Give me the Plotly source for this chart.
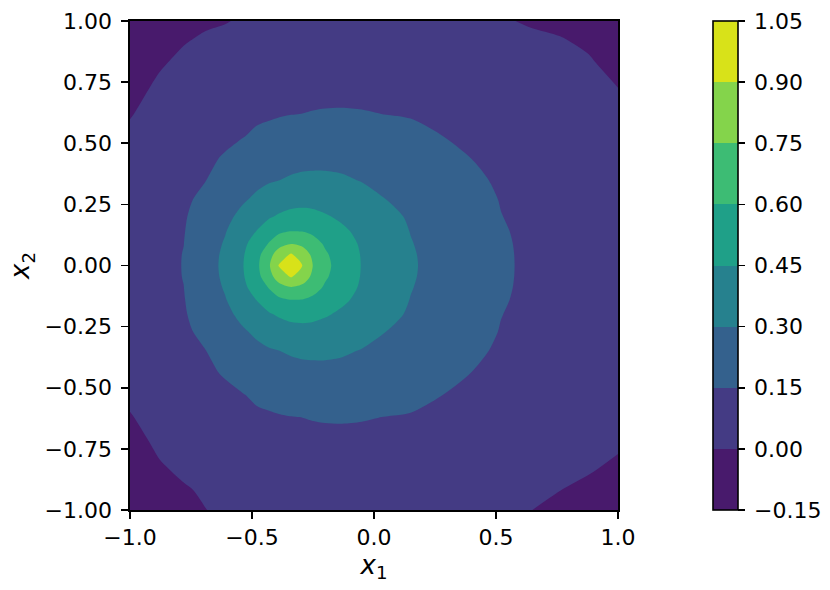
import plotly.graph_objects as go

# grid coordinates (non-uniform, finer near the peak)
x1_vals = [-1.0, -0.88, -0.78, -0.69, -0.61, -0.54, -0.48, -0.43, -0.39, -0.34, -0.29, -0.25,
           -0.2, -0.13, -0.05, 0.05, 0.15, 0.27, 0.4, 0.52, 0.64, 0.76, 0.88, 1.0]
x2_vals = [-1.0, -0.92, -0.83, -0.72, -0.62, -0.53, -0.44, -0.35, -0.27, -0.2, -0.14, -0.09, -0.045,
           0.0, 0.045, 0.09, 0.14, 0.2, 0.27, 0.35, 0.44, 0.53, 0.62, 0.72, 0.83, 0.92, 1.0]

# field values, one row per x2 value (bottom to top)
row_m100 = [-0.055, -0.04, -0.018, -0.001, 0.012, 0.02, 0.026, 0.03, 0.033, 0.036, 0.038, 0.04, 0.042, 0.044, 0.045, 0.045, 0.043, 0.038, 0.029, 0.018, 0.001, -0.012, -0.0186, -0.025]
row_m092 = [-0.048, -0.0247, -0.007, 0.0085, 0.0316, 0.0424, 0.0485, 0.0528, 0.0562, 0.0596, 0.0618, 0.0637, 0.0656, 0.0673, 0.0678, 0.0668, 0.0641, 0.0573, 0.0459, 0.0326, 0.0148, 0.0005, -0.0083, -0.016]
row_m083 = [-0.04, -0.0075, 0.0126, 0.030, 0.0535, 0.0675, 0.0738, 0.0785, 0.0822, 0.086, 0.0885, 0.0903, 0.0922, 0.0935, 0.0934, 0.0914, 0.0879, 0.079, 0.065, 0.049, 0.0304, 0.0147, 0.0034, -0.007]
row_m072 = [-0.025, 0.0136, 0.0366, 0.0569, 0.0805, 0.0983, 0.1047, 0.1098, 0.114, 0.1185, 0.1212, 0.1228, 0.1246, 0.1255, 0.1247, 0.1214, 0.117, 0.1056, 0.0882, 0.069, 0.049, 0.032, 0.0176, 0.006]
row_m062 = [-0.005, 0.0328, 0.0584, 0.081, 0.105, 0.1262, 0.1328, 0.1383, 0.143, 0.148, 0.151, 0.155, 0.158, 0.159, 0.156, 0.1486, 0.1434, 0.1297, 0.1094, 0.0875, 0.0665, 0.048, 0.0304, 0.016]
row_m053 = [0.016, 0.05, 0.078, 0.103, 0.127, 0.145, 0.167, 0.179, 0.191, 0.201, 0.206, 0.209, 0.211, 0.209, 0.205, 0.192, 0.177, 0.152, 0.128, 0.104, 0.082, 0.062, 0.042, 0.025]
row_m044 = [0.035, 0.072, 0.103, 0.131, 0.159, 0.19, 0.217, 0.232, 0.2425, 0.255, 0.26, 0.263, 0.263, 0.261, 0.252, 0.234, 0.212, 0.182, 0.149, 0.126, 0.102, 0.079, 0.055, 0.033]
row_m035 = [0.048, 0.087, 0.119, 0.148, 0.20, 0.240, 0.268, 0.288, 0.298, 0.314, 0.325, 0.327, 0.326, 0.315, 0.294, 0.27, 0.242, 0.211, 0.168, 0.137, 0.113, 0.088, 0.064, 0.04]
row_m027 = [0.057, 0.098, 0.131, 0.176, 0.237, 0.283, 0.325, 0.360, 0.382, 0.399, 0.406, 0.405, 0.398, 0.378, 0.347, 0.30, 0.271, 0.233, 0.186, 0.146, 0.121, 0.096, 0.071, 0.046]
row_m020 = [0.063, 0.105, 0.14, 0.20, 0.266, 0.333, 0.395, 0.436, 0.465, 0.491, 0.496, 0.486, 0.462, 0.428, 0.389, 0.335, 0.285, 0.242, 0.195, 0.152, 0.126, 0.101, 0.075, 0.05]
row_m014 = [0.066, 0.109, 0.145, 0.220, 0.293, 0.378, 0.454, 0.529, 0.573, 0.601, 0.595, 0.573, 0.535, 0.472, 0.417, 0.355, 0.297, 0.252, 0.204, 0.159, 0.129, 0.104, 0.078, 0.052]
row_m009 = [0.068, 0.112, 0.149, 0.233, 0.312, 0.413, 0.514, 0.608, 0.694, 0.741, 0.716, 0.653, 0.582, 0.507, 0.433, 0.369, 0.305, 0.257, 0.208, 0.163, 0.131, 0.106, 0.080, 0.054]
row_m005 = [0.07, 0.114, 0.153, 0.239, 0.326, 0.432, 0.554, 0.696, 0.823, 0.914, 0.818, 0.720, 0.618, 0.529, 0.442, 0.377, 0.311, 0.260, 0.211, 0.165, 0.132, 0.107, 0.081, 0.055]
row_p000 = [0.07, 0.114, 0.154, 0.242, 0.331, 0.439, 0.569, 0.735, 0.908, 1.03, 0.889, 0.746, 0.635, 0.536, 0.445, 0.379, 0.313, 0.262, 0.212, 0.165, 0.133, 0.107, 0.081, 0.055]
row_p005 = [0.07, 0.114, 0.153, 0.239, 0.326, 0.432, 0.554, 0.696, 0.823, 0.914, 0.818, 0.720, 0.618, 0.529, 0.442, 0.377, 0.311, 0.260, 0.211, 0.165, 0.132, 0.107, 0.081, 0.055]
row_p009 = [0.068, 0.112, 0.149, 0.233, 0.312, 0.413, 0.514, 0.608, 0.694, 0.741, 0.716, 0.653, 0.582, 0.507, 0.433, 0.369, 0.305, 0.257, 0.208, 0.163, 0.131, 0.106, 0.080, 0.054]
row_p014 = [0.066, 0.109, 0.145, 0.220, 0.293, 0.378, 0.454, 0.529, 0.573, 0.601, 0.595, 0.573, 0.535, 0.472, 0.417, 0.355, 0.297, 0.252, 0.204, 0.159, 0.129, 0.104, 0.078, 0.052]
row_p020 = [0.063, 0.105, 0.14, 0.20, 0.266, 0.333, 0.395, 0.436, 0.465, 0.491, 0.496, 0.486, 0.462, 0.428, 0.389, 0.335, 0.285, 0.242, 0.195, 0.152, 0.126, 0.101, 0.075, 0.05]
row_p027 = [0.057, 0.098, 0.131, 0.176, 0.237, 0.283, 0.325, 0.360, 0.382, 0.399, 0.406, 0.405, 0.398, 0.378, 0.347, 0.30, 0.271, 0.233, 0.186, 0.146, 0.121, 0.096, 0.071, 0.046]
row_p035 = [0.048, 0.087, 0.119, 0.148, 0.20, 0.240, 0.268, 0.288, 0.298, 0.314, 0.325, 0.327, 0.326, 0.315, 0.294, 0.27, 0.242, 0.211, 0.168, 0.137, 0.113, 0.088, 0.064, 0.04]
row_p044 = [0.035, 0.072, 0.103, 0.131, 0.159, 0.19, 0.217, 0.232, 0.2425, 0.255, 0.26, 0.263, 0.263, 0.261, 0.252, 0.234, 0.212, 0.182, 0.149, 0.126, 0.102, 0.079, 0.055, 0.032]
row_p053 = [0.016, 0.05, 0.078, 0.103, 0.127, 0.145, 0.167, 0.179, 0.191, 0.201, 0.206, 0.209, 0.211, 0.209, 0.205, 0.192, 0.177, 0.152, 0.128, 0.104, 0.082, 0.062, 0.042, 0.023]
row_p062 = [-0.005, 0.0326, 0.059, 0.081, 0.1024, 0.124, 0.131, 0.137, 0.142, 0.1477, 0.151, 0.155, 0.158, 0.159, 0.156, 0.1485, 0.1427, 0.1277, 0.1054, 0.085, 0.0654, 0.048, 0.0307, 0.013]
row_p072 = [-0.023, 0.0133, 0.038, 0.0576, 0.075, 0.0935, 0.1, 0.106, 0.11, 0.115, 0.1184, 0.12, 0.122, 0.123, 0.122, 0.118, 0.1136, 0.1012, 0.082, 0.064, 0.047, 0.033, 0.018, 0.001]
row_p083 = [-0.042, -0.0079, 0.0146, 0.031, 0.045, 0.06, 0.0664, 0.0713, 0.0753, 0.0793, 0.0825, 0.0843, 0.0863, 0.0876, 0.0874, 0.0852, 0.0815, 0.072, 0.0565, 0.041, 0.0267, 0.0163, 0.0043, -0.014]
row_p092 = [-0.055, -0.025, -0.0044, 0.0096, 0.0205, 0.0324, 0.0387, 0.043, 0.0465, 0.05, 0.053, 0.055, 0.057, 0.0587, 0.059, 0.058, 0.0553, 0.0482, 0.0356, 0.022, 0.010, 0.003, -0.007, -0.023]
row_p100 = [-0.065, -0.045, -0.022, -0.01, -0.004, 0.008, 0.014, 0.018, 0.021, 0.024, 0.027, 0.029, 0.031, 0.033, 0.034, 0.034, 0.032, 0.027, 0.017, 0.005, -0.005, -0.01, -0.017, -0.03]

z_rows = [row_m100, row_m092, row_m083, row_m072, row_m062, row_m053, row_m044, row_m035, row_m027,
          row_m020, row_m014, row_m009, row_m005, row_p000, row_p005, row_p009, row_p014, row_p020,
          row_p027, row_p035, row_p044, row_p053, row_p062, row_p072, row_p083, row_p092, row_p100]

levels = [-0.15, 0.0, 0.15, 0.30, 0.45, 0.60, 0.75, 0.90, 1.05]
level_labels = ["\u22120.15", "0.00", "0.15", "0.30", "0.45", "0.60", "0.75", "0.90", "1.05"]
band_colors = ["#481a6c", "#443b84", "#34618d", "#26818e", "#1fa088", "#3dbc74", "#84d44b", "#d8e219"]

x_ticks = [-1.0, -0.5, 0.0, 0.5, 1.0]
x_ticklabels = ["\u22121.0", "\u22120.5", "0.0", "0.5", "1.0"]
y_ticks = [-1.0, -0.75, -0.5, -0.25, 0.0, 0.25, 0.5, 0.75, 1.0]
y_ticklabels = ["\u22121.00", "\u22120.75", "\u22120.50", "\u22120.25", "0.00", "0.25", "0.50", "0.75", "1.00"]

# stepped colorscale
n = len(band_colors)
colorscale = []
for i, c in enumerate(band_colors):
    colorscale.append([i / n, c])
    colorscale.append([(i + 1) / n, c])

FONT = "DejaVu Sans"
FS = 22
L, R, T, B = 130, 212, 21, 80
W, H = 830, 590
pw = W - L - R

fig = go.Figure(go.Contour(
    x=x1_vals, y=x2_vals, z=z_rows,
    zmin=levels[0], zmax=levels[-1], zauto=False,
    autocontour=False,
    contours=dict(start=levels[0], end=levels[-1], size=0.15, coloring="fill", showlines=False),
    line=dict(width=0, smoothing=0.8),
    colorscale=colorscale,
    colorbar=dict(
        x=(713 - L) / pw, xanchor="left", xref="paper",
        y=0.5, yanchor="middle", len=1, lenmode="fraction",
        thickness=25, thicknessmode="pixels", xpad=0, ypad=0,
        outlinewidth=1.6, outlinecolor="black",
        ticks="outside", ticklen=7, tickwidth=1.6, tickcolor="black",
        tickvals=levels, ticktext=["\u2009" + t for t in level_labels],
        tickfont=dict(family=FONT, size=FS, color="black"),
    ),
    hoverinfo="skip",
))

axis_common = dict(
    showgrid=False, zeroline=False, showline=True, mirror=True,
    linecolor="black", linewidth=1.6,
    ticks="outside", ticklen=7, tickwidth=1.6, tickcolor="black",
    tickfont=dict(family=FONT, size=FS, color="black"),
)

fig.update_layout(
    width=W, height=H,
    margin=dict(l=L, r=R, t=T, b=B, autoexpand=False),
    paper_bgcolor="white", plot_bgcolor="white",
    font=dict(family=FONT, size=FS, color="black"),
    xaxis=dict(range=[-1, 1], tickvals=x_ticks, ticktext=x_ticklabels,
               title=dict(text="<i>x</i><sub>1</sub>", standoff=4), **axis_common),
    yaxis=dict(range=[-1, 1], tickvals=y_ticks, ticktext=y_ticklabels, ticklabelstandoff=5,
               title=dict(text="<i>x</i><sub>2</sub>", standoff=7), **axis_common),
)

fig.write_html("out.html",
               config={"displayModeBar": False, "staticPlot": True},
               post_script="document.body.style.margin='0';document.body.style.padding='0';")
